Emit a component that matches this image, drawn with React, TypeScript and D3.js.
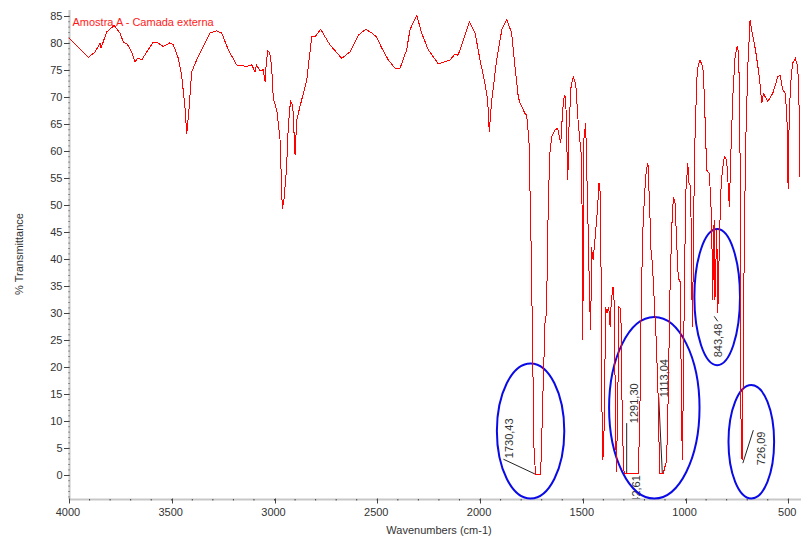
import React, { useEffect, useRef } from 'react';
import * as d3 from 'd3';

// spectrum: wavenumber (cm-1) and % transmittance
const wavenumbers = [
  4000, 3956, 3906, 3873, 3849, 3844, 3817, 3780, 3752, 3739,
  3735, 3719, 3695, 3679, 3664, 3646, 3622, 3590, 3572, 3541,
  3509, 3492, 3468, 3452, 3436, 3427, 3415, 3403, 3379, 3346,
  3314, 3281, 3257, 3225, 3184, 3135, 3110, 3095, 3088, 3071,
  3055, 3046, 3043, 3033, 3023, 3014, 3006, 2989, 2973, 2962,
  2954, 2941, 2933, 2922, 2911, 2900, 2892, 2876, 2860, 2843,
  2819, 2803, 2775, 2754, 2730, 2673, 2633, 2592, 2556, 2527,
  2503, 2478, 2446, 2414, 2389, 2357, 2341, 2308, 2284, 2252,
  2203, 2146, 2122, 2107, 2081, 2052, 2024, 2000, 1976, 1963,
  1955, 1943, 1919, 1894, 1870, 1846, 1830, 1814, 1805, 1781,
  1773, 1762, 1753, 1749, 1744, 1737, 1729, 1705, 1700, 1692,
  1684, 1679, 1673, 1668, 1660, 1651, 1635, 1622, 1614, 1607,
  1598, 1590, 1583, 1578, 1573, 1567, 1557, 1546, 1534, 1522,
  1505, 1500, 1494, 1486, 1476, 1466, 1461, 1458, 1450, 1442,
  1429, 1421, 1415, 1410, 1405, 1399, 1393, 1390, 1382, 1374,
  1367, 1361, 1353, 1348, 1342, 1337, 1331, 1324, 1317, 1312,
  1308, 1299, 1231, 1223, 1215, 1207, 1199, 1191, 1183, 1174,
  1167, 1163, 1158, 1150, 1142, 1134, 1126, 1108, 1092, 1084,
  1076, 1067, 1059, 1051, 1043, 1035, 1027, 1022, 1016, 1011,
  1006, 999, 989, 983, 978, 973, 967, 962, 957, 950,
  943, 930, 916, 909, 897, 884, 873, 868, 861, 857,
  848, 843, 837, 829, 821, 811, 800, 792, 787, 779,
  770, 759, 749, 741, 735, 730, 725, 719, 714, 706,
  697, 686, 676, 668, 657, 641, 629, 621, 600, 576,
  551, 540, 527, 514, 506, 501, 495, 487, 479, 466,
  454, 446, 443
];

const transmittance = [
  81.0, 79.3, 77.4, 78.4, 80.0, 79.1, 82.1, 83.3, 81.9, 80.6,
  80.1, 80.0, 78.4, 76.6, 77.3, 76.9, 78.4, 80.2, 80.2, 79.4,
  80.1, 79.7, 77.2, 74.1, 68.3, 63.3, 68.3, 74.7, 76.9, 79.4,
  81.9, 82.3, 81.9, 78.8, 76.0, 75.7, 76.0, 74.7, 76.0, 74.9,
  75.1, 72.9, 75.1, 78.6, 78.2, 75.7, 69.8, 67.6, 62.1, 49.3,
  51.0, 57.1, 64.6, 69.4, 68.3, 59.3, 65.8, 68.3, 70.7, 73.2,
  81.2, 81.2, 82.6, 81.2, 79.7, 77.2, 78.4, 81.5, 82.6, 81.9,
  81.2, 79.1, 76.9, 75.4, 75.4, 78.8, 82.5, 85.2, 81.9, 78.8,
  76.2, 76.9, 78.0, 77.8, 80.6, 84.0, 81.9, 76.9, 72.6, 69.5,
  63.6, 69.5, 76.9, 82.5, 84.4, 81.9, 75.7, 70.1, 68.9, 67.0,
  66.7, 62.1, 46.0, 36.8, 23.2, 4.1, 0.1, 0.1, 6.5, 17.6,
  28.1, 29.4, 37.4, 50.4, 59.6, 62.7, 63.9, 64.3, 62.7, 61.5,
  67.6, 70.4, 70.1, 61.5, 54.7, 64.6, 72.0, 73.8, 72.3, 65.2,
  58.4, 25.1, 62.7, 65.2, 49.1, 31.2, 26.9, 42.3, 39.9, 43.0,
  49.1, 54.1, 52.2, 33.7, 2.8, 3.8, 15.2, 31.2, 30.0, 31.2,
  27.5, 32.5, 34.9, 32.5, 15.2, 0.7, 10.2, 31.2, 30.9, 26.3,
  9.0, 0.4, 0.4, 9.0, 33.7, 46.0, 52.2, 56.5, 57.8, 49.1,
  40.5, 39.9, 36.8, 30.6, 24.5, 15.2, 0.4, 0.4, 2.8, 15.2,
  33.7, 46.0, 51.6, 50.4, 43.0, 36.2, 36.2, 21.4, 2.8, 15.2,
  33.7, 52.2, 57.8, 54.1, 53.8, 47.3, 27.5, 39.9, 58.4, 67.6,
  75.1, 76.9, 75.7, 70.7, 56.5, 55.9, 47.3, 32.5, 47.3, 32.5,
  45.4, 30.0, 39.9, 52.2, 56.5, 59.0, 58.4, 53.4, 49.7, 60.2,
  70.1, 77.5, 79.4, 78.1, 59.6, 9.0, 2.8, 20.1, 44.8, 63.3,
  75.7, 84.3, 81.9, 80.6, 78.1, 73.8, 68.9, 70.7, 69.2, 70.7,
  73.8, 74.1, 71.4, 70.7, 65.2, 53.1, 67.6, 73.2, 76.3, 77.2,
  75.7, 66.4, 55.3
];

const xTickValues = [4000, 3500, 3000, 2500, 2000, 1500, 1000, 500];
const yTickValues = [0, 5, 10, 15, 20, 25, 30, 35, 40, 45, 50, 55, 60, 65, 70, 75, 80, 85];

const seriesName = 'Amostra A - Camada externa';

// labelled peaks
const peakLabels = ['1730,43', '1291,30', '1113,04', '1242,61', '843,48', '726,09'];
const peakWavenumbers = [1730.43, 1291.3, 1113.04, 1242.61, 843.48, 726.09];
const peakTransmittance = [0.2, 0.4, 0.4, 0.4, 30.0, 2.8];

// hand-drawn circles: centre (cm-1, %T) and half sizes (cm-1, %T)
const circleWavenumbers = [1754, 1152, 846, 680];
const circleTransmittance = [8.2, 12.5, 33.0, 6.2];
const circleHalfWidths = [164, 220, 111, 111];
const circleHalfHeights = [12.5, 16.8, 12.6, 10.5];

// label placement relative to the peak point, in px
const labelLayout = [
  { dx: -25, dy: -16, anchor: 'start', lead: [-32, -15, 0, 0] },
  { dx: 9, dy: -50, anchor: 'start', lead: [1, -50, 1, 0] },
  { dx: 3, dy: -76, anchor: 'start', lead: [-3.6, -76, 0, 0] },
  { dx: 1, dy: 2, anchor: 'end', lead: null },
  { dx: 1, dy: 44, anchor: 'start', lead: [-3.5, 3, 0, 8] },
  { dx: 20, dy: 5, anchor: 'start', lead: [11.5, -30, 1, 3] }
];

const FONT = '"Liberation Sans", Arial, sans-serif';

export default function App() {
  const ref = useRef<SVGSVGElement>(null);

  useEffect(() => {
    const svg = d3.select(ref.current);
    svg.selectAll('*').remove();

    const left = 69.5, right = 801, top = 10, bottom = 499.5;

    const x = d3.scaleLinear().domain([4000, 500]).range([69, 788.3]);
    const y = d3.scaleLinear().domain([0, 85]).range([475.3, 16.3]);

    svg.append('defs').append('clipPath').attr('id', 'note-clip')
      .append('rect')
      .attr('x', left).attr('y', top)
      .attr('width', right - left).attr('height', bottom - top - 1);

    // y axis
    svg.append('line')
      .attr('x1', left).attr('x2', left).attr('y1', top).attr('y2', bottom)
      .attr('stroke', '#c8c8c8').attr('stroke-width', 2);
    svg.append('g').selectAll('rect')
      .data(d3.range(-4, 86))
      .enter().append('rect')
      .attr('x', 68.5).attr('y', d => y(d) - 0.5)
      .attr('width', 1).attr('height', 1)
      .attr('fill', '#444');
    const yAxis = svg.append('g');
    yAxis.selectAll('line')
      .data(yTickValues)
      .enter().append('line')
      .attr('x1', 64).attr('x2', 69.5)
      .attr('y1', d => Math.round(y(d)) + 0.5).attr('y2', d => Math.round(y(d)) + 0.5)
      .attr('stroke', '#444');
    yAxis.selectAll('text')
      .data(yTickValues)
      .enter().append('text')
      .attr('x', 62.5).attr('y', d => y(d) + 4)
      .attr('text-anchor', 'end')
      .attr('font-family', FONT).attr('font-size', 11).attr('fill', '#333')
      .text(d => d);

    // x axis
    svg.append('line')
      .attr('x1', left).attr('x2', right).attr('y1', bottom).attr('y2', bottom)
      .attr('stroke', '#c8c8c8').attr('stroke-width', 2);
    svg.append('g').selectAll('rect')
      .data(d3.range(3900, 400, -100))
      .enter().append('rect')
      .attr('x', d => x(d) - 0.5).attr('y', bottom - 0.5)
      .attr('width', 1).attr('height', 1.5)
      .attr('fill', '#444');
    const xAxis = svg.append('g');
    xAxis.selectAll('line')
      .data(xTickValues)
      .enter().append('line')
      .attr('x1', d => Math.round(x(d)) + 0.5).attr('x2', d => Math.round(x(d)) + 0.5)
      .attr('y1', bottom - 1).attr('y2', bottom + 4)
      .attr('stroke', '#444');
    xAxis.selectAll('text')
      .data(xTickValues)
      .enter().append('text')
      .attr('x', d => x(d) - 1).attr('y', 516)
      .attr('text-anchor', 'middle')
      .attr('font-family', FONT).attr('font-size', 11).attr('fill', '#333')
      .text(d => d);

    // axis titles
    svg.append('text')
      .attr('x', 439).attr('y', 534)
      .attr('text-anchor', 'middle')
      .attr('font-family', FONT).attr('font-size', 11).attr('fill', '#333')
      .text('Wavenumbers (cm-1)');
    svg.append('text')
      .attr('transform', 'translate(23,254) rotate(-90)')
      .attr('text-anchor', 'middle')
      .attr('font-family', FONT).attr('font-size', 11).attr('fill', '#333')
      .text('% Transmittance');

    svg.append('text')
      .attr('x', 72.5).attr('y', 25.5)
      .attr('font-family', FONT).attr('font-size', 11).attr('fill', '#ff1a1a')
      .text(seriesName);

    // peak labels
    const notes = svg.append('g').attr('clip-path', 'url(#note-clip)');
    peakLabels.forEach((label, i) => {
      const px = x(peakWavenumbers[i]);
      const py = y(peakTransmittance[i]);
      const lay = labelLayout[i];
      if (lay.lead) {
        notes.append('line')
          .attr('x1', px + lay.lead[0]).attr('y1', py + lay.lead[1])
          .attr('x2', px + lay.lead[2]).attr('y2', py + lay.lead[3])
          .attr('stroke', '#222').attr('stroke-width', 1);
      }
      notes.append('text')
        .attr('transform', `translate(${px + lay.dx},${py + lay.dy}) rotate(-90)`)
        .attr('text-anchor', lay.anchor)
        .attr('dominant-baseline', 'middle')
        .attr('font-family', FONT).attr('font-size', 11).attr('fill', '#333')
        .text(label);
    });

    // blue circles
    svg.append('g').selectAll('ellipse')
      .data(circleWavenumbers)
      .enter().append('ellipse')
      .attr('cx', d => x(d))
      .attr('cy', (d, i) => y(circleTransmittance[i]))
      .attr('rx', (d, i) => Math.abs(x(d + circleHalfWidths[i]) - x(d)))
      .attr('ry', (d, i) => Math.abs(y(circleHalfHeights[i]) - y(0)))
      .attr('fill', 'none')
      .attr('stroke', '#0a0ae6')
      .attr('stroke-width', 2);

    // spectrum, drawn aliased like the original plot
    const points = wavenumbers.map((w, i) => [w, transmittance[i]] as [number, number]);
    const line = d3.line<[number, number]>()
      .x(d => x(d[0]))
      .y(d => y(d[1]));
    svg.append('path')
      .attr('d', line(points))
      .attr('fill', 'none')
      .attr('stroke', '#ff0000')
      .attr('stroke-width', 1)
      .attr('shape-rendering', 'crispEdges');
  }, []);

  return (
    <svg
      ref={ref}
      width={801}
      height={536}
      style={{ position: 'absolute', left: 0, top: 0, background: '#fff' }}
    />
  );
}
